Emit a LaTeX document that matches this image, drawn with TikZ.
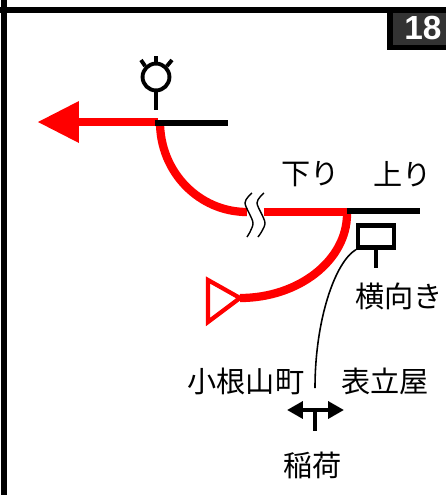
\documentclass[tikz,border=0pt]{standalone}
\usepackage{fontspec}
\setmainfont{Liberation Sans}
\newfontfamily\jpfont{Noto Sans CJK JP}
\usetikzlibrary{arrows.meta, positioning, calc}

\begin{document}
\begin{tikzpicture}[
    x=0.02cm,
    y=-0.02cm,
    label style/.style={font=\jpfont\fontsize{16.6pt}{18pt}\selectfont, inner sep=0pt},
    frame line/.style={line width=3.4pt, black},
    track main/.style={line width=4.7pt, red},
    track bar/.style={line width=3.4pt, black},
    signal line/.style={line width=2.2pt, black},
    break line/.style={line width=0.8pt, black},
    lead line/.style={line width=0.9pt, black}
]
    \useasboundingbox (0,0) rectangle (446,495);

    % Frame
    \draw[frame line] (0,10) -- (446,10);
    \draw[frame line] (4,0) -- (4,495);

    % Number plate
    \fill[black] (387,10) rectangle (446,50);
    \fill[black!80] (393,13) rectangle (446,45);
    \node[white, font=\bfseries\fontsize{19pt}{20pt}\selectfont, inner sep=0pt] (number) at (423,28) {18};

    % Junction points
    \coordinate (upper) at (158,122);
    \coordinate (lower) at (347,212);
    \coordinate (breakL) at (247,212);
    \coordinate (breakR) at (264,212);
    \coordinate (inlet) at (240,298);

    % Red tracks
    \fill[red] (38,122) -- (79,101) -- (79,143) -- cycle;
    \draw[track main] (79,122) -- (upper);
    \draw[track main] (160,122) .. controls (160,172) and (199,212) .. (breakL);
    \draw[track main] (breakR) -- (lower);
    \draw[track main] (347,214) .. controls (347,260) and (299,298) .. (inlet);
    \draw[line width=2.4pt, red, fill=white, line join=miter] (inlet) -- (208,280) -- (208,322) -- cycle;

    % Break mark
    \draw[break line] plot[smooth] coordinates {(252,193) (245,203) (253,223) (247,237)};
    \draw[break line] plot[smooth] coordinates {(264,193) (257,203) (265,223) (258,237)};

    % Platform bars
    \draw[track bar] (155,123) -- (228,123);
    \draw[track bar] (347,211) -- (420,211);

    % Signal
    \node[draw=black, line width=2.2pt, circle, minimum size=15.3pt, inner sep=0pt] (lamp) at (156,77) {};
    \draw[signal line] (lamp.south) -- (156,110);
    \draw[signal line] (lamp.north) -- (156,56);
    \draw[signal line] (lamp.north west) -- (141,60);
    \draw[signal line] (lamp.north east) -- (172,60);

    % Side board
    \node[draw=black, line width=2.4pt, minimum width=20.4pt, minimum height=12.5pt, inner sep=0pt] (board) at (376,236.5) {};
    \draw[line width=2.4pt] (board.south) -- (376,268);

    % Labels
    \node[label style] (down) at (311,174) {下り};
    \node[label style] (up) at (403,174) {上り};
    \node[label style] (side) at (399,296) {横向き};
    \node[label style] (west) at (246,381) {小根山町};
    \node[label style] (east) at (385,381) {表立屋};
    \node[label style] (inari) at (313,465) {稲荷};

    % Leader from board to the junction sign
    \coordinate (post) at (315,388);
    \draw[lead line] (board.south west) .. controls (335,262) and (315,320) .. (post);

    % Junction sign
    \coordinate (signL) at (287,410);
    \coordinate (signR) at (344,410);
    \draw[line width=2.2pt, {Triangle[length=9pt,width=9.5pt]}-{Triangle[length=9pt,width=9.5pt]}] (signL) -- (signR);
    \draw[line width=2pt] (315,410) -- (315,431);
\end{tikzpicture}
\end{document}
